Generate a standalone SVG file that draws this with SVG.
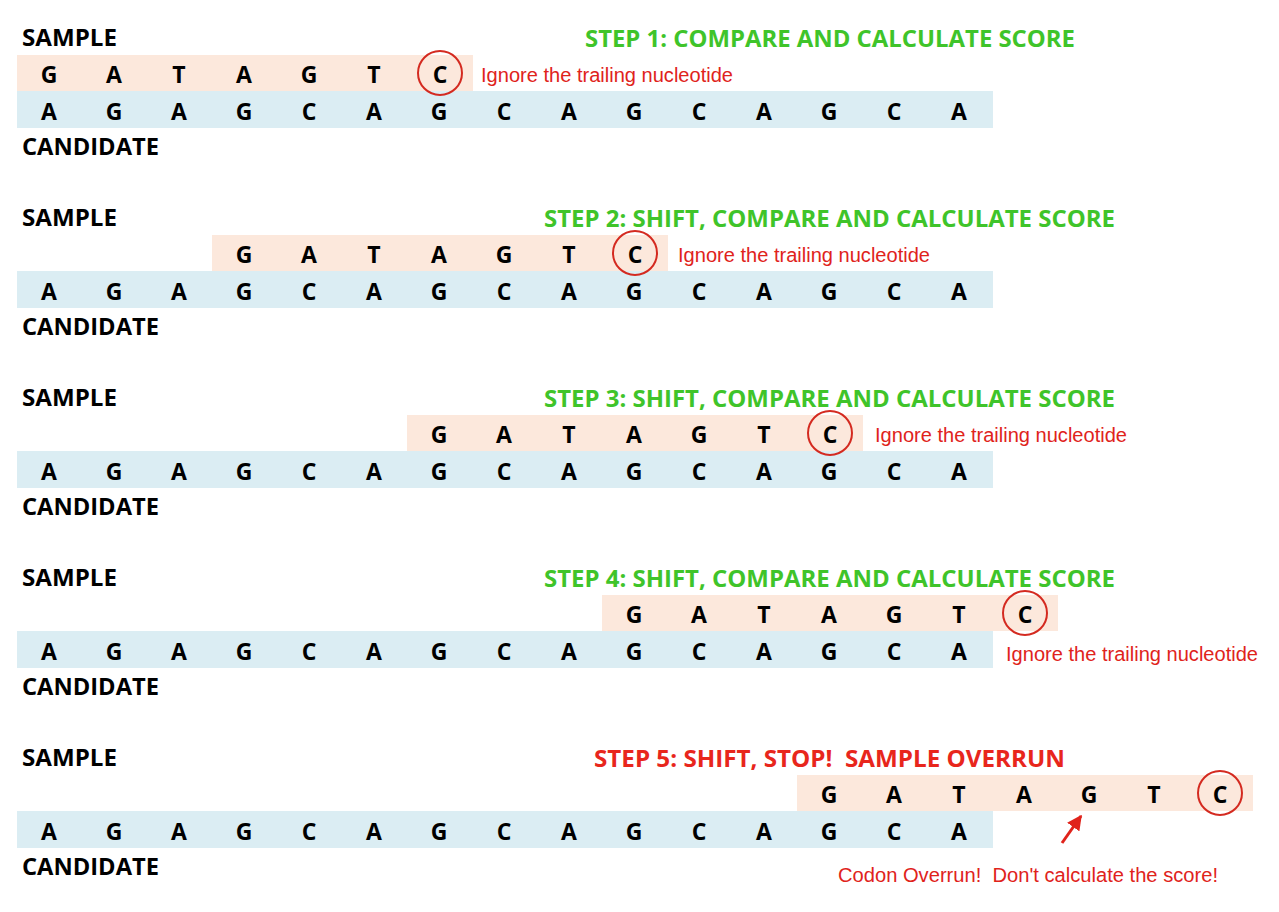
<svg xmlns="http://www.w3.org/2000/svg" width="1279" height="912" viewBox="0 0 1279 912">
<defs>
<style>
.lbl{font-family:"Open Sans","Liberation Sans",sans-serif;font-weight:bold;font-size:23px;fill:#000}
.nt{font-family:"Open Sans","Liberation Sans",sans-serif;font-weight:bold;font-size:23px;fill:#000;text-anchor:middle}
.ttl{font-family:"Open Sans","Liberation Sans",sans-serif;font-weight:bold;font-size:24px;fill:#3fc42a}
.ttlr{font-family:"Open Sans","Liberation Sans",sans-serif;font-weight:bold;font-size:24px;fill:#e8261c}
.note{font-family:"Liberation Sans",Arial,sans-serif;font-size:20px;fill:#e0231b}
.sb{fill:#fce8dc}
.cb{fill:#dbedf3}
.ring{fill:none;stroke:#d42a20;stroke-width:2}
</style>
<marker id="ah" viewBox="0 0 10 10" refX="9" refY="5" markerWidth="5" markerHeight="5" orient="auto">
<path d="M0,0 L10,5 L0,10 z" fill="#e0231b"/>
</marker>
</defs>
<rect width="1279" height="912" fill="#fff"/>

<!-- STEP 1 -->
<g id="step1">
<text class="lbl" x="22" y="46" textLength="95" lengthAdjust="spacingAndGlyphs">SAMPLE</text>
<text class="ttl" x="585" y="47" textLength="490" lengthAdjust="spacingAndGlyphs">STEP 1: COMPARE AND CALCULATE SCORE</text>
<rect class="sb" x="17" y="55" width="456" height="36"/>
<rect class="cb" x="17" y="91" width="976" height="37"/>
<g class="nt">
<text x="49" y="83">G</text><text x="114" y="83">A</text><text x="179" y="83">T</text><text x="244" y="83">A</text><text x="309" y="83">G</text><text x="374" y="83">T</text><text x="440" y="83">C</text>
</g>
<circle class="ring" cx="440" cy="73" r="22"/>
<text class="note" x="481" y="82" textLength="252" lengthAdjust="spacingAndGlyphs">Ignore the trailing nucleotide</text>
<g class="nt">
<text x="49" y="120">A</text><text x="114" y="120">G</text><text x="179" y="120">A</text><text x="244" y="120">G</text><text x="309" y="120">C</text><text x="374" y="120">A</text><text x="439" y="120">G</text><text x="504" y="120">C</text><text x="569" y="120">A</text><text x="634" y="120">G</text><text x="699" y="120">C</text><text x="764" y="120">A</text><text x="829" y="120">G</text><text x="894" y="120">C</text><text x="959" y="120">A</text>
</g>
<text class="lbl" x="22" y="155" textLength="137" lengthAdjust="spacingAndGlyphs">CANDIDATE</text>
</g>

<!-- STEP 2 -->
<g id="step2">
<text class="lbl" x="22" y="226" textLength="95" lengthAdjust="spacingAndGlyphs">SAMPLE</text>
<text class="ttl" x="544" y="227" textLength="571" lengthAdjust="spacingAndGlyphs">STEP 2: SHIFT, COMPARE AND CALCULATE SCORE</text>
<rect class="sb" x="212" y="235" width="456" height="36"/>
<rect class="cb" x="17" y="271" width="976" height="37"/>
<g class="nt">
<text x="244" y="263">G</text><text x="309" y="263">A</text><text x="374" y="263">T</text><text x="439" y="263">A</text><text x="504" y="263">G</text><text x="569" y="263">T</text><text x="635" y="263">C</text>
</g>
<circle class="ring" cx="635" cy="253" r="22"/>
<text class="note" x="678" y="262" textLength="252" lengthAdjust="spacingAndGlyphs">Ignore the trailing nucleotide</text>
<g class="nt">
<text x="49" y="300">A</text><text x="114" y="300">G</text><text x="179" y="300">A</text><text x="244" y="300">G</text><text x="309" y="300">C</text><text x="374" y="300">A</text><text x="439" y="300">G</text><text x="504" y="300">C</text><text x="569" y="300">A</text><text x="634" y="300">G</text><text x="699" y="300">C</text><text x="764" y="300">A</text><text x="829" y="300">G</text><text x="894" y="300">C</text><text x="959" y="300">A</text>
</g>
<text class="lbl" x="22" y="335" textLength="137" lengthAdjust="spacingAndGlyphs">CANDIDATE</text>
</g>

<!-- STEP 3 -->
<g id="step3">
<text class="lbl" x="22" y="406" textLength="95" lengthAdjust="spacingAndGlyphs">SAMPLE</text>
<text class="ttl" x="544" y="407" textLength="571" lengthAdjust="spacingAndGlyphs">STEP 3: SHIFT, COMPARE AND CALCULATE SCORE</text>
<rect class="sb" x="407" y="415" width="456" height="36"/>
<rect class="cb" x="17" y="451" width="976" height="37"/>
<g class="nt">
<text x="439" y="443">G</text><text x="504" y="443">A</text><text x="569" y="443">T</text><text x="634" y="443">A</text><text x="699" y="443">G</text><text x="764" y="443">T</text><text x="830" y="443">C</text>
</g>
<circle class="ring" cx="830" cy="433" r="22"/>
<text class="note" x="875" y="442" textLength="252" lengthAdjust="spacingAndGlyphs">Ignore the trailing nucleotide</text>
<g class="nt">
<text x="49" y="480">A</text><text x="114" y="480">G</text><text x="179" y="480">A</text><text x="244" y="480">G</text><text x="309" y="480">C</text><text x="374" y="480">A</text><text x="439" y="480">G</text><text x="504" y="480">C</text><text x="569" y="480">A</text><text x="634" y="480">G</text><text x="699" y="480">C</text><text x="764" y="480">A</text><text x="829" y="480">G</text><text x="894" y="480">C</text><text x="959" y="480">A</text>
</g>
<text class="lbl" x="22" y="515" textLength="137" lengthAdjust="spacingAndGlyphs">CANDIDATE</text>
</g>

<!-- STEP 4 -->
<g id="step4">
<text class="lbl" x="22" y="586" textLength="95" lengthAdjust="spacingAndGlyphs">SAMPLE</text>
<text class="ttl" x="544" y="587" textLength="571" lengthAdjust="spacingAndGlyphs">STEP 4: SHIFT, COMPARE AND CALCULATE SCORE</text>
<rect class="sb" x="602" y="595" width="456" height="36"/>
<rect class="cb" x="17" y="631" width="976" height="37"/>
<g class="nt">
<text x="634" y="623">G</text><text x="699" y="623">A</text><text x="764" y="623">T</text><text x="829" y="623">A</text><text x="894" y="623">G</text><text x="959" y="623">T</text><text x="1025" y="623">C</text>
</g>
<circle class="ring" cx="1025" cy="613" r="22"/>
<g class="nt">
<text x="49" y="660">A</text><text x="114" y="660">G</text><text x="179" y="660">A</text><text x="244" y="660">G</text><text x="309" y="660">C</text><text x="374" y="660">A</text><text x="439" y="660">G</text><text x="504" y="660">C</text><text x="569" y="660">A</text><text x="634" y="660">G</text><text x="699" y="660">C</text><text x="764" y="660">A</text><text x="829" y="660">G</text><text x="894" y="660">C</text><text x="959" y="660">A</text>
</g>
<text class="note" x="1006" y="661" textLength="252" lengthAdjust="spacingAndGlyphs">Ignore the trailing nucleotide</text>
<text class="lbl" x="22" y="695" textLength="137" lengthAdjust="spacingAndGlyphs">CANDIDATE</text>
</g>

<!-- STEP 5 -->
<g id="step5">
<text class="lbl" x="22" y="766" textLength="95" lengthAdjust="spacingAndGlyphs">SAMPLE</text>
<text class="ttlr" x="594" y="767" textLength="471" lengthAdjust="spacingAndGlyphs" xml:space="preserve">STEP 5: SHIFT, STOP!  SAMPLE OVERRUN</text>
<rect class="sb" x="797" y="775" width="456" height="36"/>
<rect class="cb" x="17" y="811" width="976" height="37"/>
<g class="nt">
<text x="829" y="803">G</text><text x="894" y="803">A</text><text x="959" y="803">T</text><text x="1024" y="803">A</text><text x="1089" y="803">G</text><text x="1154" y="803">T</text><text x="1220" y="803">C</text>
</g>
<circle class="ring" cx="1220" cy="793" r="22"/>
<g class="nt">
<text x="49" y="840">A</text><text x="114" y="840">G</text><text x="179" y="840">A</text><text x="244" y="840">G</text><text x="309" y="840">C</text><text x="374" y="840">A</text><text x="439" y="840">G</text><text x="504" y="840">C</text><text x="569" y="840">A</text><text x="634" y="840">G</text><text x="699" y="840">C</text><text x="764" y="840">A</text><text x="829" y="840">G</text><text x="894" y="840">C</text><text x="959" y="840">A</text>
</g>
<text class="lbl" x="22" y="875" textLength="137" lengthAdjust="spacingAndGlyphs">CANDIDATE</text>
<text class="note" x="838" y="882" textLength="380" lengthAdjust="spacingAndGlyphs" xml:space="preserve">Codon Overrun!  Don't calculate the score!</text>
</g>

<g id="connectors">
<line x1="1062" y1="843" x2="1081" y2="816" stroke="#e0231b" stroke-width="3" marker-end="url(#ah)"/>
</g>
</svg>
